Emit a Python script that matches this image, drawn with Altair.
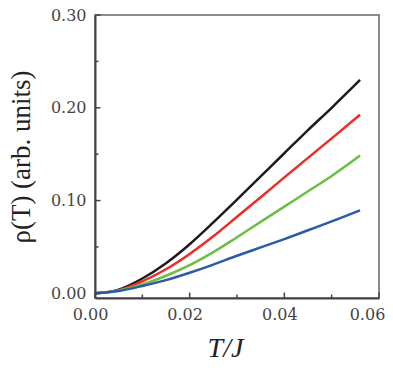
import altair as alt
import pandas as pd

# ---- data ----
T = [0.0, 0.005, 0.01, 0.015, 0.02, 0.025, 0.03, 0.035, 0.04, 0.045, 0.05, 0.056]
rho_black = [0.0, 0.004, 0.016, 0.0325, 0.053, 0.0765, 0.101, 0.126, 0.151, 0.176, 0.200, 0.230]
rho_red = [0.0, 0.0035, 0.013, 0.026, 0.0425, 0.0615, 0.0825, 0.1035, 0.125, 0.146, 0.167, 0.1925]
rho_green = [0.0, 0.003, 0.0095, 0.019, 0.0305, 0.0445, 0.0605, 0.077, 0.0935, 0.110, 0.1265, 0.1485]
rho_blue = [0.0, 0.0025, 0.0079, 0.0143, 0.0222, 0.031, 0.0405, 0.0495, 0.0585, 0.068, 0.0775, 0.0895]

series_names = ["black", "red", "green", "blue"]
series_colors = ["#1c1c1c", "#ee2b25", "#6cbd45", "#2b5ba8"]

x_major = [0.0, 0.02, 0.04, 0.06]
x_minor = [0.01, 0.03, 0.05]
y_major = [0.0, 0.10, 0.20, 0.30]
y_minor = [0.05, 0.15, 0.25]

rows = []
for name, vals in zip(series_names, [rho_black, rho_red, rho_green, rho_blue]):
    for t, v in zip(T, vals):
        rows.append({"T": t, "rho": v, "series": name})
df = pd.DataFrame(rows)

W, H = 284, 283
AX = "#444444"
SERIF = "'Liberation Serif', 'Times New Roman', Times, serif"
LABEL = "'DejaVu Serif', serif"

x_scale = alt.Scale(domain=[0, 0.06], nice=False, zero=False)
y_scale = alt.Scale(domain=[-0.005, 0.30], nice=False, zero=False)

x_axis = alt.Axis(
    values=x_major, format=".2f", title="T/J",
    ticks=False, tickSize=0, grid=False, labelFlush=False,
    domainColor=AX, domainWidth=2,
    labelFont=LABEL, labelFontSize=16, labelColor=AX,
    labelPadding=8,
    labelOffset={"condition": {"test": "datum.value >= 0.059", "value": -12}, "value": -5},
    titleFont=SERIF, titleFontStyle="italic", titleFontWeight="normal",
    titleFontSize=28, titleColor="#222222",
    titleX=130, titleY=58, titleBaseline="alphabetic", titleAlign="center")
y_axis = alt.Axis(
    values=y_major, format=".2f", title="ρ(T) (arb. units)",
    ticks=False, tickSize=0, grid=False, labelFlush=False,
    domainColor=AX, domainWidth=2,
    labelFont=LABEL, labelFontSize=16, labelColor=AX,
    labelPadding=9,
    titleFont=SERIF, titleFontWeight="normal",
    titleFontSize=27, titleColor="#222222", titleAngle=270,
    titleX=-66, titleY=141.5, titleBaseline="alphabetic", titleAlign="center")

lines = alt.Chart(df).mark_line(strokeWidth=2.5, interpolate="monotone").encode(
    x=alt.X("T:Q", scale=x_scale, axis=x_axis),
    y=alt.Y("rho:Q", scale=y_scale, axis=y_axis),
    color=alt.Color("series:N", scale=alt.Scale(domain=series_names, range=series_colors), legend=None),
)

def xticks(vals, length):
    d = pd.DataFrame({"T": vals})
    return alt.Chart(d).mark_rule(color=AX, strokeWidth=1.5).encode(
        x=alt.X("T:Q", scale=x_scale, axis=x_axis),
        y=alt.value(H), y2=alt.value(H - length))

def yticks(vals, length):
    d = pd.DataFrame({"rho": vals})
    return alt.Chart(d).mark_rule(color=AX, strokeWidth=1.5).encode(
        y=alt.Y("rho:Q", scale=y_scale, axis=y_axis),
        x=alt.value(0), x2=alt.value(length))

chart = alt.layer(
    lines,
    xticks(x_major, 5.5), xticks(x_minor, 3.5),
    yticks(y_major, 5.5), yticks(y_minor, 3.5),
).properties(
    width=W, height=H,
    padding={"left": 87, "top": 7, "right": 6, "bottom": 62},
    autosize=alt.AutoSizeParams(type="none"),
).configure_view(
    stroke="#666666", strokeWidth=1.5
).configure_axis(
    titleFont=SERIF, labelFont=LABEL, titleFontWeight="normal"
)

chart.save("out.html", embed_options={"renderer": "svg", "actions": False})
